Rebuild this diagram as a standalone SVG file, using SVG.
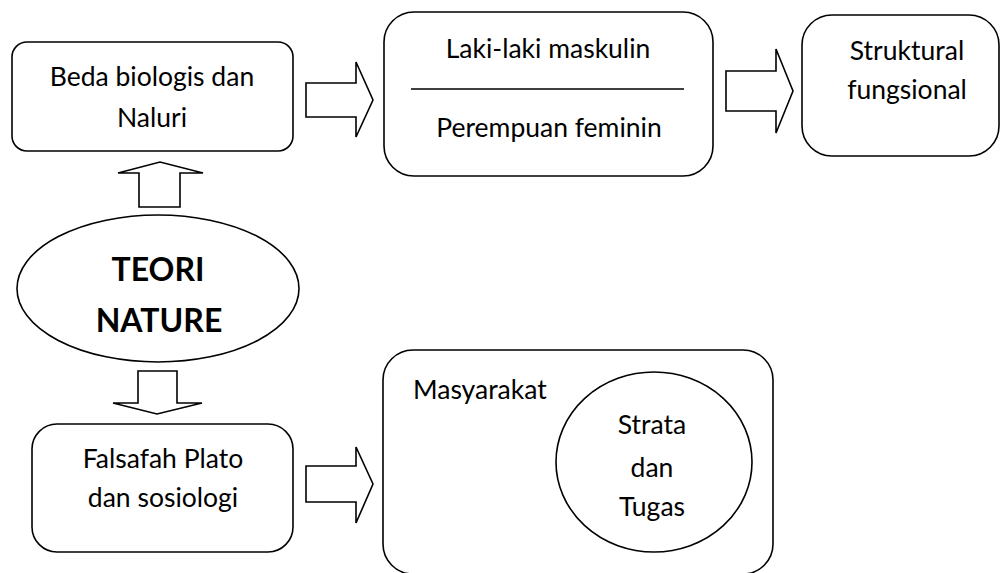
<svg xmlns="http://www.w3.org/2000/svg" width="1000" height="573" viewBox="0 0 1000 573">
<style>
.box{fill:#fff;stroke:#000;stroke-width:1.6}
.arr{fill:#fff;stroke:#000;stroke-width:1.6;stroke-linejoin:miter}
.t{font-family:Lato,"Liberation Sans",sans-serif;font-size:26.5px;fill:#000;text-anchor:middle}
.b{font-family:Lato,"Liberation Sans",sans-serif;font-size:32px;font-weight:bold;fill:#000;text-anchor:middle}
</style>
<rect width="1000" height="573" fill="#fff"/>
<g id="connectors">
<polygon class="arr" points="306,83 356,83 356,62 373,100 356,137 356,117 306,117"/>
<polygon class="arr" points="726,71 776,71 776,49 793,91 776,133 776,111 726,111"/>
<polygon class="arr" points="306,466 356,466 356,447 373,484 356,523 356,502 306,502"/>
<polygon class="arr" points="139,207 139,173 118,173 160,162 203,173 180,173 180,207"/>
<polygon class="arr" points="138,371 177,371 177,403 202,403 157,414 113,403 138,403"/>
</g>
<g id="beda">
<rect class="box" x="12" y="42" width="281" height="109" rx="15"/>
<text class="t" x="152" y="86">Beda biologis dan</text>
<text class="t" x="152" y="127">Naluri</text>
</g>
<g id="laki">
<rect class="box" x="384" y="12" width="329" height="164" rx="30"/>
<line x1="411" y1="89" x2="684" y2="89" stroke="#000" stroke-width="1.6"/>
<text class="t" x="548" y="58">Laki-laki maskulin</text>
<text class="t" x="549" y="137">Perempuan feminin</text>
</g>
<g id="struktural">
<rect class="box" x="802" y="15" width="197" height="141" rx="30"/>
<text class="t" x="907" y="60">Struktural</text>
<text class="t" x="907" y="99">fungsional</text>
</g>
<g id="teori">
<ellipse class="box" cx="158" cy="288.5" rx="141" ry="73.5"/>
<text class="b" x="158" y="281">TEORI</text>
<text class="b" x="159" y="332">NATURE</text>
</g>
<g id="falsafah">
<rect class="box" x="32" y="424" width="261" height="128" rx="25"/>
<text class="t" x="163" y="468">Falsafah Plato</text>
<text class="t" x="163" y="507">dan sosiologi</text>
</g>
<g id="masyarakat">
<rect class="box" x="383" y="350" width="390" height="224" rx="30"/>
<text class="t" x="413" y="399" style="text-anchor:start">Masyarakat</text>
</g>
<g id="strata">
<ellipse class="box" cx="654" cy="462" rx="98" ry="90"/>
<text class="t" x="652" y="434">Strata</text>
<text class="t" x="652" y="477">dan</text>
<text class="t" x="652" y="516">Tugas</text>
</g>
</svg>
